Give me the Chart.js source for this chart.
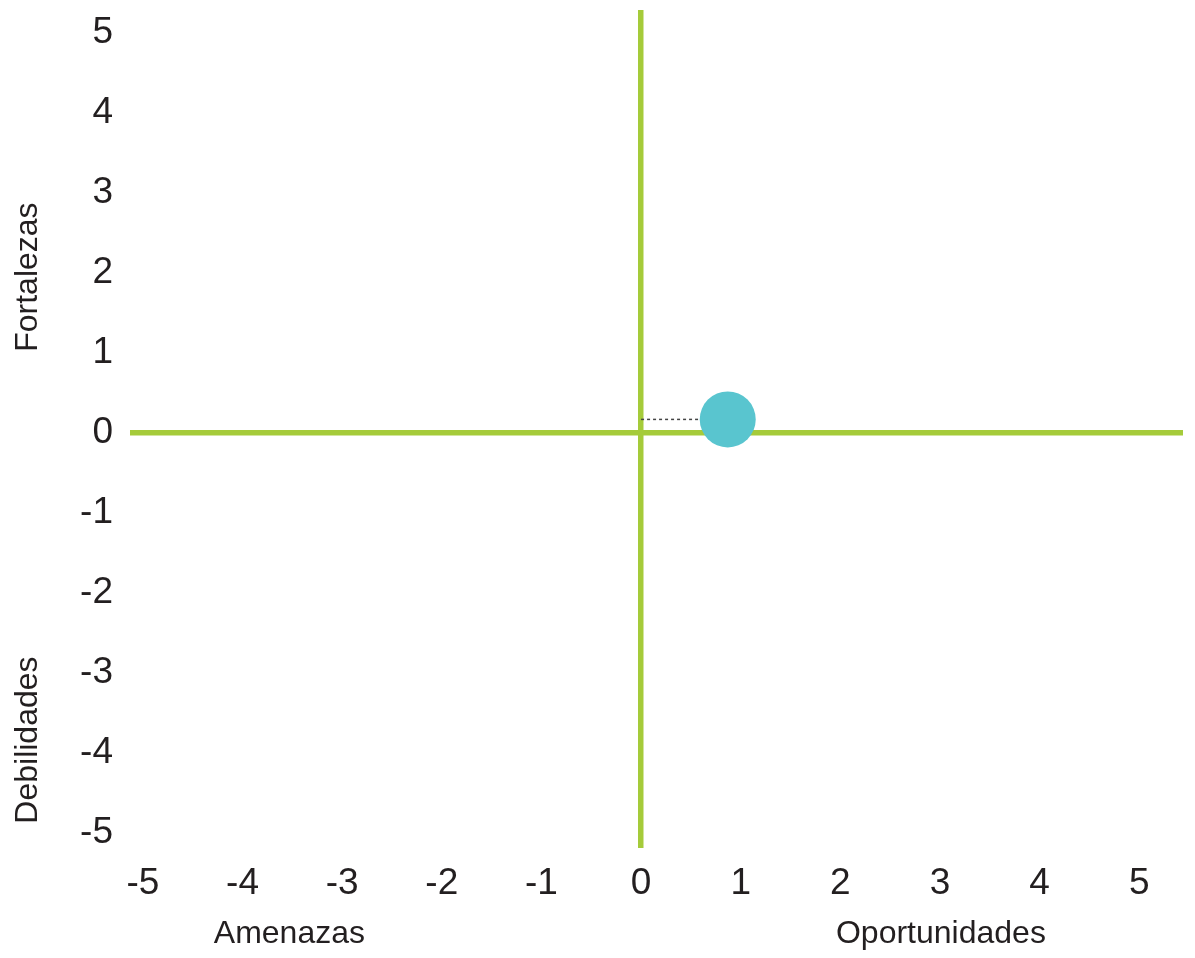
<!DOCTYPE html>
<html>
<head>
<meta charset="utf-8">
<script src="https://cdn.jsdelivr.net/npm/chart.js@4"></script>
<style>
  html, body { margin: 0; padding: 0; background: #fff; }
  #wrap { width: 1195px; height: 958px; }
</style>
</head>
<body>
<div id="wrap"><canvas id="matrix"></canvas></div>
<script>
// axis ranges and tick labels
const xBounds = [-5.13, 5.44];
const yBounds = [-5.19, 5.29];
const xTickLabels = ['-5', '-4', '-3', '-2', '-1', '0', '1', '2', '3', '4', '5'];
const yTickLabels = ['-5', '-4', '-3', '-2', '-1', '0', '1', '2', '3', '4', '5'];

// position of the company in the matrix
const pointX = [0.87];
const pointY = [0.17];

// quadrant names
const yNames = ['Fortalezas', 'Debilidades'];
const xNames = ['Amenazas', 'Oportunidades'];
const yNameAt = [1.95, -3.84];
const xNameAt = [-3.53, 3.01];

const green = '#a5cb3a';
const textColor = '#231f20';
const fontFamily = '"Liberation Sans", Arial, sans-serif';

const tickIdx = v => Math.round(v) + 5;

const quadrantNames = {
    id: 'quadrantNames',
    afterDraw(chart) {
        const ctx = chart.ctx;
        const sx = chart.scales.x, sy = chart.scales.y;
        ctx.save();
        ctx.fillStyle = textColor;
        ctx.font = '32px ' + fontFamily;
        ctx.textAlign = 'center';
        ctx.textBaseline = 'middle';
        yNames.forEach((name, i) => {
            ctx.save();
            ctx.translate(28, sy.getPixelForValue(yNameAt[i]));
            ctx.rotate(-Math.PI / 2);
            ctx.fillText(name, 0, 0);
            ctx.restore();
        });
        xNames.forEach((name, i) => {
            ctx.fillText(name, sx.getPixelForValue(xNameAt[i]), 934);
        });
        ctx.restore();
    }
};

const zeroLine = (c) => c.tick && c.tick.value === 0 ? green : 'rgba(0,0,0,0)';

new Chart(document.getElementById('matrix'), {
    type: 'scatter',
    data: {
        datasets: [{
            // the company
            data: pointX.map((x, i) => ({ x: x, y: pointY[i] })),
            backgroundColor: '#59c5cf',
            borderWidth: 0,
            pointRadius: 28,
            pointHoverRadius: 28,
            order: 0
        }, {
            // dotted guide from the vertical axis to the point
            type: 'line',
            data: [{ x: 0, y: pointY[0] }, { x: pointX[0], y: pointY[0] }],
            borderColor: '#444',
            borderWidth: 1.5,
            borderDash: [3, 3],
            pointRadius: 0,
            order: 1
        }]
    },
    options: {
        responsive: true,
        maintainAspectRatio: false,
        animation: false,
        layout: { autoPadding: false, padding: { top: 10, right: 12, left: 0, bottom: 0 } },
        plugins: { legend: { display: false }, tooltip: { enabled: false } },
        scales: {
            x: {
                type: 'linear',
                min: xBounds[0],
                max: xBounds[1],
                border: { display: false },
                grid: { color: zeroLine, lineWidth: 5.5, drawTicks: false },
                ticks: {
                    stepSize: 1,
                    includeBounds: false,
                    padding: 14,
                    color: textColor,
                    font: { family: fontFamily, size: 37 },
                    callback: v => xTickLabels[tickIdx(v)]
                },
                afterFit: s => { s.height = 110; s.paddingLeft = 0; s.paddingRight = 0; }
            },
            y: {
                type: 'linear',
                min: yBounds[0],
                max: yBounds[1],
                border: { display: false },
                grid: { color: zeroLine, lineWidth: 5.5, drawTicks: false },
                ticks: {
                    stepSize: 1,
                    includeBounds: false,
                    padding: 17,
                    color: textColor,
                    font: { family: fontFamily, size: 37 },
                    callback: v => yTickLabels[tickIdx(v)]
                },
                afterFit: s => { s.width = 130; s.paddingTop = 0; s.paddingBottom = 0; }
            }
        }
    },
    plugins: [quadrantNames]
});
</script>
</body>
</html>
